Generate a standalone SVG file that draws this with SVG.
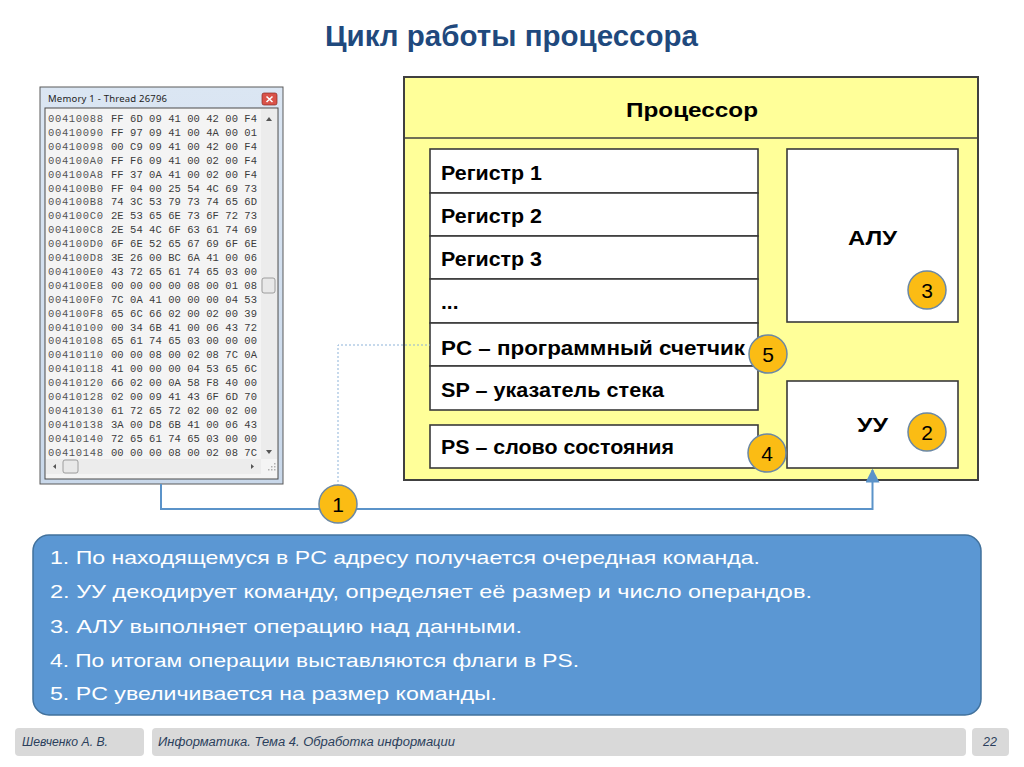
<svg xmlns="http://www.w3.org/2000/svg" width="1024" height="767" viewBox="0 0 1024 767">
<style>
.title{font-family:"Liberation Sans",Arial,sans-serif;font-weight:bold;font-size:29px;fill:#1f497d}
.reg{font-family:"Liberation Sans",Arial,sans-serif;font-weight:bold;font-size:21px;fill:#000}
.box{fill:#fff;stroke:#3a3a3a;stroke-width:1.6}
.badge circle{fill:#fbbc14;stroke:#6b88a4;stroke-width:1.5}
.badge text{font-family:"Liberation Sans",Arial,sans-serif;font-size:21px;fill:#000;text-anchor:middle}
.info{font-family:"Liberation Sans",Arial,sans-serif;font-size:19px;fill:#fff}
.foot rect{fill:#d9d9d9}
.foot text{font-family:"Liberation Sans",Arial,sans-serif;font-style:italic;font-size:12.5px;fill:#2b3f5c}
.hex{font-family:"Liberation Mono","Courier New",monospace;font-size:10.5px;fill:#3c3c3c}
.addr{font-family:"Liberation Mono","Courier New",monospace;font-size:10.5px;fill:#555}
</style>
<defs>
<marker id="arr" viewBox="0 0 10 10" refX="9" refY="5" markerWidth="7" markerHeight="7" orient="auto">
<path d="M0,0 L10,5 L0,10 z" fill="#5b93c9"/>
</marker>
<linearGradient id="frame" x1="0" y1="0" x2="0" y2="1">
<stop offset="0" stop-color="#dbe6f3"/><stop offset="1" stop-color="#c9d8ea"/>
</linearGradient>
</defs>
<rect width="1024" height="767" fill="#fff"/>
<text class="title" x="325" y="46" textLength="373" lengthAdjust="spacingAndGlyphs">Цикл работы процессора</text>

<!-- Memory window -->
<g id="memory">
<rect x="40" y="87" width="243" height="397" fill="url(#frame)" stroke="#5a5a5a" stroke-width="1"/>
<text x="48" y="102" font-family="Noto Sans, sans-serif" font-size="9.5" fill="#222" textLength="119">Memory 1 - Thread 26796</text>
<rect x="262" y="93" width="15" height="12" rx="2" fill="#d9534a" stroke="#8a2a22" stroke-width="0.7"/>
<path d="M266.5,96.5 L272.5,102 M272.5,96.5 L266.5,102" stroke="#fff" stroke-width="1.6"/>
<rect x="45" y="108" width="233" height="371" fill="#f4f4f4" stroke="#4a4a4a" stroke-width="1"/>
<rect x="261" y="109" width="16" height="350" fill="#ececec"/>
<path d="M266,121 L269,117 L272,121 z" fill="#555"/>
<path d="M266,450 L269,454 L272,450 z" fill="#555"/>
<rect x="262" y="278" width="13" height="15" rx="2" fill="#e8e8e8" stroke="#8a8a8a" stroke-width="0.8"/>
<rect x="46" y="459" width="215" height="15" fill="#ececec"/>
<rect x="63" y="460" width="15" height="13" rx="2" fill="#e8e8e8" stroke="#8a8a8a" stroke-width="0.8"/>
<path d="M53,466.5 L56,464 L56,469 z" fill="#555"/>
<path d="M254,466.5 L251,464 L251,469 z" fill="#555"/>
<g fill="#b0b0b0"><rect x="271" y="469" width="1.5" height="1.5"/><rect x="274" y="469" width="1.5" height="1.5"/><rect x="274" y="466" width="1.5" height="1.5"/><rect x="271" y="466" width="1.5" height="1.5"/><rect x="268" y="469" width="1.5" height="1.5"/><rect x="274" y="463" width="1.5" height="1.5"/></g>
<g>
<text class="addr" x="48" y="122" textLength="55">00410088</text><text class="hex" x="111" y="122" textLength="146">FF 6D 09 41 00 42 00 F4</text>
<text class="addr" x="48" y="135.9" textLength="55">00410090</text><text class="hex" x="111" y="135.9" textLength="146">FF 97 09 41 00 4A 00 01</text>
<text class="addr" x="48" y="149.8" textLength="55">00410098</text><text class="hex" x="111" y="149.8" textLength="146">00 C9 09 41 00 42 00 F4</text>
<text class="addr" x="48" y="163.7" textLength="55">004100A0</text><text class="hex" x="111" y="163.7" textLength="146">FF F6 09 41 00 02 00 F4</text>
<text class="addr" x="48" y="177.6" textLength="55">004100A8</text><text class="hex" x="111" y="177.6" textLength="146">FF 37 0A 41 00 02 00 F4</text>
<text class="addr" x="48" y="191.5" textLength="55">004100B0</text><text class="hex" x="111" y="191.5" textLength="146">FF 04 00 25 54 4C 69 73</text>
<text class="addr" x="48" y="205.4" textLength="55">004100B8</text><text class="hex" x="111" y="205.4" textLength="146">74 3C 53 79 73 74 65 6D</text>
<text class="addr" x="48" y="219.3" textLength="55">004100C0</text><text class="hex" x="111" y="219.3" textLength="146">2E 53 65 6E 73 6F 72 73</text>
<text class="addr" x="48" y="233.2" textLength="55">004100C8</text><text class="hex" x="111" y="233.2" textLength="146">2E 54 4C 6F 63 61 74 69</text>
<text class="addr" x="48" y="247.1" textLength="55">004100D0</text><text class="hex" x="111" y="247.1" textLength="146">6F 6E 52 65 67 69 6F 6E</text>
<text class="addr" x="48" y="261" textLength="55">004100D8</text><text class="hex" x="111" y="261" textLength="146">3E 26 00 BC 6A 41 00 06</text>
<text class="addr" x="48" y="274.9" textLength="55">004100E0</text><text class="hex" x="111" y="274.9" textLength="146">43 72 65 61 74 65 03 00</text>
<text class="addr" x="48" y="288.8" textLength="55">004100E8</text><text class="hex" x="111" y="288.8" textLength="146">00 00 00 00 08 00 01 08</text>
<text class="addr" x="48" y="302.7" textLength="55">004100F0</text><text class="hex" x="111" y="302.7" textLength="146">7C 0A 41 00 00 00 04 53</text>
<text class="addr" x="48" y="316.6" textLength="55">004100F8</text><text class="hex" x="111" y="316.6" textLength="146">65 6C 66 02 00 02 00 39</text>
<text class="addr" x="48" y="330.5" textLength="55">00410100</text><text class="hex" x="111" y="330.5" textLength="146">00 34 6B 41 00 06 43 72</text>
<text class="addr" x="48" y="344.4" textLength="55">00410108</text><text class="hex" x="111" y="344.4" textLength="146">65 61 74 65 03 00 00 00</text>
<text class="addr" x="48" y="358.3" textLength="55">00410110</text><text class="hex" x="111" y="358.3" textLength="146">00 00 08 00 02 08 7C 0A</text>
<text class="addr" x="48" y="372.2" textLength="55">00410118</text><text class="hex" x="111" y="372.2" textLength="146">41 00 00 00 04 53 65 6C</text>
<text class="addr" x="48" y="386.1" textLength="55">00410120</text><text class="hex" x="111" y="386.1" textLength="146">66 02 00 0A 58 F8 40 00</text>
<text class="addr" x="48" y="400" textLength="55">00410128</text><text class="hex" x="111" y="400" textLength="146">02 00 09 41 43 6F 6D 70</text>
<text class="addr" x="48" y="413.9" textLength="55">00410130</text><text class="hex" x="111" y="413.9" textLength="146">61 72 65 72 02 00 02 00</text>
<text class="addr" x="48" y="427.8" textLength="55">00410138</text><text class="hex" x="111" y="427.8" textLength="146">3A 00 D8 6B 41 00 06 43</text>
<text class="addr" x="48" y="441.7" textLength="55">00410140</text><text class="hex" x="111" y="441.7" textLength="146">72 65 61 74 65 03 00 00</text>
<text class="addr" x="48" y="455.6" textLength="55">00410148</text><text class="hex" x="111" y="455.6" textLength="146">00 00 00 08 00 02 08 7C</text>
</g>
</g>

<!-- Processor -->
<g id="processor">
<rect x="404" y="77" width="574" height="403" fill="#ffff99" stroke="#404040" stroke-width="2"/>
<line x1="404" y1="138" x2="978" y2="138" stroke="#404040" stroke-width="1.6"/>
<text class="reg" x="626" y="117" font-size="23" textLength="132" lengthAdjust="spacingAndGlyphs">Процессор</text>
</g>
<g id="reg1"><rect class="box" x="430" y="149" width="328" height="44"/><text class="reg" x="441" y="180" textLength="101" lengthAdjust="spacingAndGlyphs">Регистр 1</text></g>
<g id="reg2"><rect class="box" x="430" y="193" width="328" height="43"/><text class="reg" x="441" y="223" textLength="101" lengthAdjust="spacingAndGlyphs">Регистр 2</text></g>
<g id="reg3"><rect class="box" x="430" y="236" width="328" height="43"/><text class="reg" x="441" y="266" textLength="101" lengthAdjust="spacingAndGlyphs">Регистр 3</text></g>
<g id="regdots"><rect class="box" x="430" y="279" width="328" height="44"/><text class="reg" x="441" y="309">...</text></g>
<g id="pc"><rect class="box" x="430" y="323" width="328" height="43"/><text class="reg" x="441" y="355" textLength="304" lengthAdjust="spacingAndGlyphs">PC – программный счетчик</text></g>
<g id="sp"><rect class="box" x="430" y="366" width="328" height="44"/><text class="reg" x="441" y="397" textLength="223" lengthAdjust="spacingAndGlyphs">SP – указатель стека</text></g>
<g id="ps"><rect class="box" x="430" y="425" width="328" height="43"/><text class="reg" x="441" y="454" textLength="233" lengthAdjust="spacingAndGlyphs">PS – слово состояния</text></g>
<g id="alu"><rect class="box" x="787" y="149" width="171" height="173"/><text class="reg" x="848" y="245" textLength="49" lengthAdjust="spacingAndGlyphs">АЛУ</text></g>
<g id="uu"><rect class="box" x="787" y="381" width="171" height="87"/><text class="reg" x="857" y="432" textLength="31" lengthAdjust="spacingAndGlyphs">УУ</text></g>

<!-- Connectors -->
<g id="connectors">
<path d="M161,484 L161,509 L872.5,509 L872.5,470" fill="none" stroke="#5b93c9" stroke-width="2" marker-end="url(#arr)"/>
<path d="M338,486 L338,345 L430,345" fill="none" stroke="#8db3d9" stroke-width="1" stroke-dasharray="2,2"/>
</g>

<!-- Badges -->
<g id="badge1" class="badge"><circle cx="338" cy="504" r="19"/><text x="338" y="512">1</text></g>
<g id="badge2" class="badge"><circle cx="927" cy="432" r="19"/><text x="927" y="440">2</text></g>
<g id="badge3" class="badge"><circle cx="927" cy="290" r="19"/><text x="927" y="298">3</text></g>
<g id="badge4" class="badge"><circle cx="767" cy="453" r="19"/><text x="767" y="461">4</text></g>
<g id="badge5" class="badge"><circle cx="768" cy="354" r="19"/><text x="768" y="362">5</text></g>

<!-- Steps box -->
<g id="steps">
<rect x="33" y="535" width="948" height="180" rx="16" fill="#5b97d3" stroke="#41719c" stroke-width="1.5"/>
<text class="info" x="50" y="564" textLength="710" lengthAdjust="spacingAndGlyphs">1. По находящемуся в PC адресу получается очередная команда.</text>
<text class="info" x="50" y="598" textLength="762" lengthAdjust="spacingAndGlyphs">2. УУ декодирует команду, определяет её размер и число операндов.</text>
<text class="info" x="50" y="633" textLength="472" lengthAdjust="spacingAndGlyphs">3. АЛУ выполняет операцию над данными.</text>
<text class="info" x="50" y="667" textLength="529" lengthAdjust="spacingAndGlyphs">4. По итогам операции выставляются флаги в PS.</text>
<text class="info" x="50" y="700" textLength="447" lengthAdjust="spacingAndGlyphs">5. PC увеличивается на размер команды.</text>
</g>

<!-- Footer -->
<g id="footer" class="foot">
<rect x="15" y="728" width="129" height="28" rx="4"/>
<rect x="152" y="728" width="814" height="28" rx="4"/>
<rect x="972" y="728" width="37" height="28" rx="4"/>
<text x="22" y="746" textLength="86" lengthAdjust="spacingAndGlyphs">Шевченко А. В.</text>
<text x="158" y="746" textLength="297" lengthAdjust="spacingAndGlyphs">Информатика. Тема 4. Обработка информации</text>
<text x="990" y="746" text-anchor="middle" font-style="normal">22</text>
</g>
</svg>
